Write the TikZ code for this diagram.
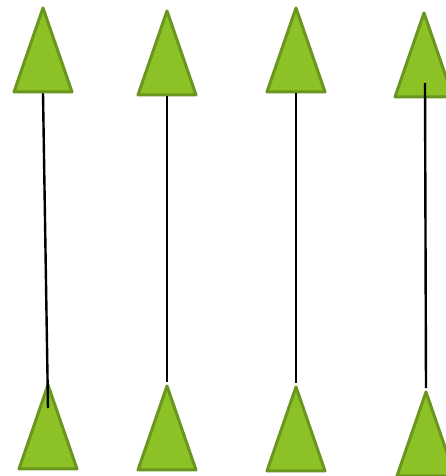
\documentclass[tikz,border=0pt]{standalone}
\usepackage{tikz}
\usetikzlibrary{shapes.geometric}
\definecolor{leaf}{HTML}{8DC227}
\definecolor{leafedge}{HTML}{6A961F}

\begin{document}
\begin{tikzpicture}[
  x=1pt,y=-1pt,
  tri/.style={isosceles triangle,isosceles triangle stretches,shape border rotate=90,
    draw=leafedge,fill=leaf,line width=3pt,line join=round,inner sep=0pt,
    minimum width=58pt,minimum height=84pt,anchor=apex},
  rod/.style={line width=2.4pt,black}
]
\useasboundingbox (0,0) rectangle (446,476);
% top row
\node[tri] (t1) at (43,4) {};
\node[tri] (t2) at (167,7) {};
\node[tri] (t3) at (296,4) {};
\node[tri] (t4) at (424,9) {};
% bottom row
\node[tri] (b1) at (48,381) {};
\node[tri] (b2) at (167,382) {};
\node[tri] (b3) at (296,383) {};
\node[tri] (b4) at (426,388) {};
% free ends of the rods
\coordinate (e1) at (48,408);
\coordinate (s4) at (425,83);
\draw[rod] (t1.south) -- (e1);
\draw[rod] (t2.south) -- (b2.apex);
\draw[rod] (t3.south) -- (b3.apex);
\draw[rod] (s4) -- (b4.apex);
\end{tikzpicture}
\end{document}
